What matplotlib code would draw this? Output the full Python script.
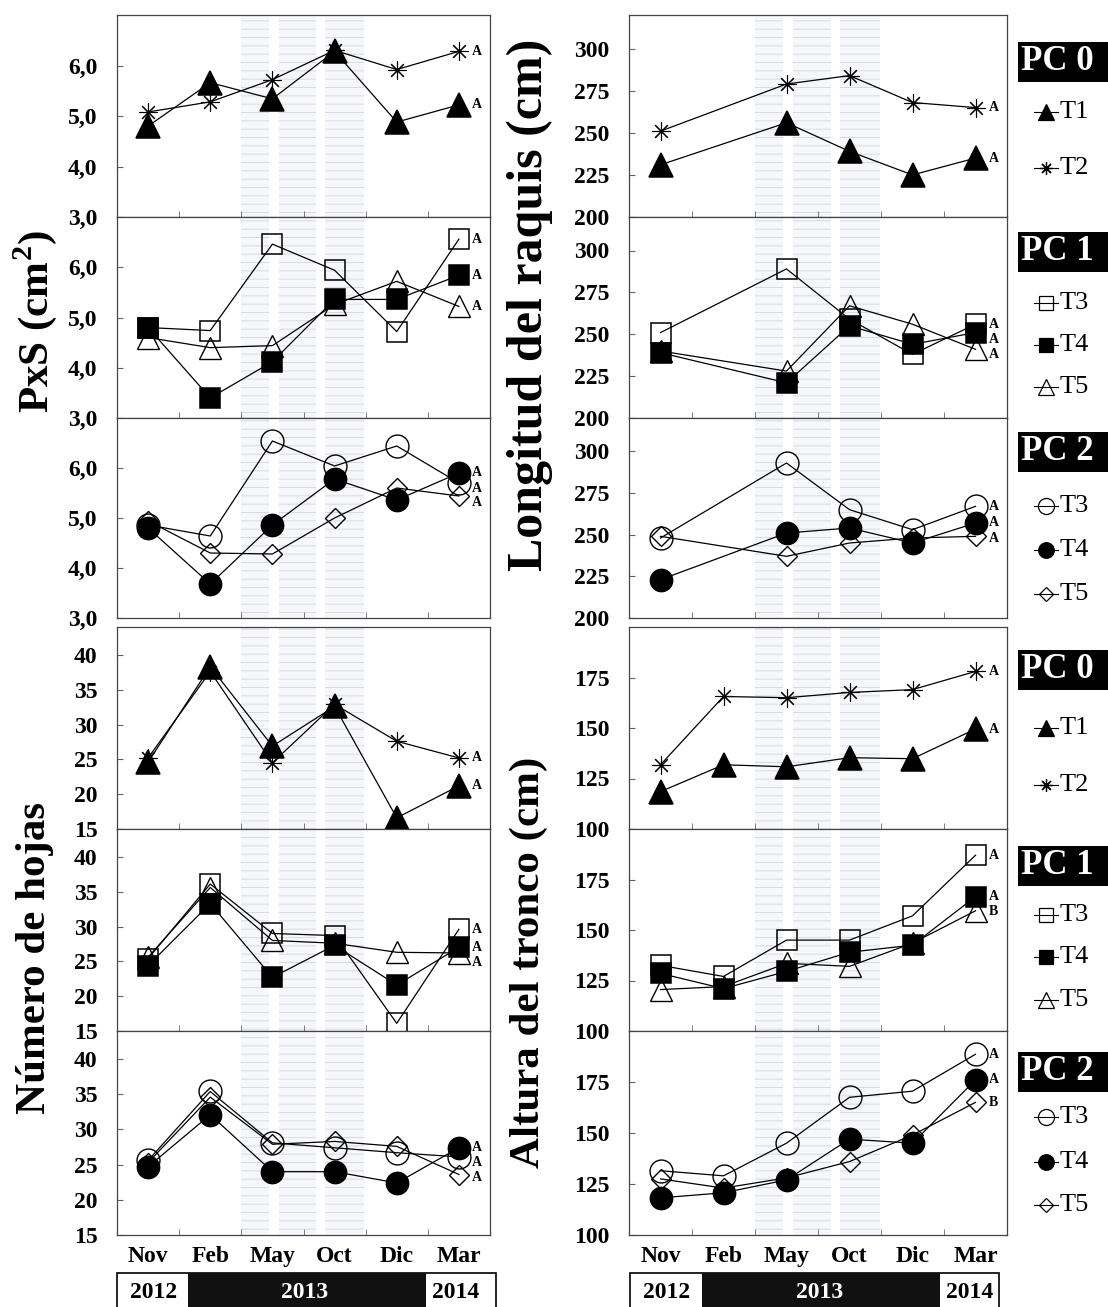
import numpy as np
import matplotlib
matplotlib.use('Agg')
import matplotlib.pyplot as plt
from matplotlib.patches import Rectangle
from matplotlib.lines import Line2D

plt.rcParams['font.family'] = ['Liberation Serif', 'DejaVu Serif']
plt.rcParams['mathtext.fontset'] = 'custom'
plt.rcParams['mathtext.rm'] = 'Liberation Serif:bold'
plt.rcParams['mathtext.bf'] = 'Liberation Serif:bold'
plt.rcParams['hatch.linewidth'] = 0.7

# ---- data ----
months = ['Nov', 'Feb', 'May', 'Oct', 'Dic', 'Mar']
years = ['2012', '2013', '2014']
nan = np.nan

# PxS (cm2)
pxs_pc0_t1 = [4.80, 5.66, 5.34, 6.28, 4.88, 5.22]
pxs_pc0_t2 = [5.08, 5.28, 5.72, 6.30, 5.92, 6.28]
pxs_pc1_t3 = [4.80, 4.74, 6.46, 5.94, 4.72, 6.56]
pxs_pc1_t4 = [4.80, 3.40, 4.12, 5.36, 5.36, 5.84]
pxs_pc1_t5 = [4.60, 4.40, 4.44, 5.26, 5.72, 5.22]
pxs_pc2_t3 = [4.86, 4.64, 6.54, 6.04, 6.44, 5.70]
pxs_pc2_t4 = [4.80, 3.68, 4.86, 5.78, 5.36, 5.90]
pxs_pc2_t5 = [4.94, 4.30, 4.28, 5.00, 5.60, 5.44]

# Longitud del raquis (cm), no Feb measurement
lr_pc0_t1 = [231, nan, 256, 239, 225, 235]
lr_pc0_t2 = [251, nan, 279, 284, 268, 265]
lr_pc1_t3 = [251, nan, 289, 259, 238, 256]
lr_pc1_t4 = [239, nan, 221, 255, 244, 251]
lr_pc1_t5 = [240, nan, 228, 267, 256, 241]
lr_pc2_t3 = [248, nan, 293, 265, 253, 267]
lr_pc2_t4 = [223, nan, 251, 254, 245, 257]
lr_pc2_t5 = [249, nan, 237, 245, 248, 249]

# Numero de hojas
nh_pc0_t1 = [24.6, 38.3, 26.9, 32.6, 16.6, 21.2]
nh_pc0_t2 = [25.2, 37.6, 24.5, 32.9, 27.6, 25.2]
nh_pc1_t3 = [25.4, 36.1, 29.0, 28.7, 16.1, 29.6]
nh_pc1_t4 = [24.4, 33.3, 22.7, 27.3, 21.6, 27.0]
nh_pc1_t5 = [25.6, 35.6, 28.0, 27.6, 26.3, 26.2]
nh_pc2_t3 = [25.6, 35.4, 28.1, 27.4, 26.7, 26.1]
nh_pc2_t4 = [24.7, 32.1, 24.0, 24.0, 22.4, 27.4]
nh_pc2_t5 = [25.3, 34.6, 27.9, 28.3, 27.6, 23.6]

# Altura del tronco (cm)
at_pc0_t1 = [118.5, 131.8, 130.8, 135.3, 134.8, 149.5]
at_pc0_t2 = [131.8, 165.6, 165.0, 167.6, 169.0, 178.0]
at_pc1_t3 = [132.5, 127.0, 145.0, 145.0, 157.0, 187.0]
at_pc1_t4 = [128.5, 121.0, 129.5, 139.0, 142.5, 166.5]
at_pc1_t5 = [120.5, 122.0, 133.5, 132.0, 143.5, 159.5]
at_pc2_t3 = [131.5, 129.0, 145.0, 167.5, 170.5, 188.6]
at_pc2_t4 = [118.2, 120.7, 127.0, 147.0, 145.0, 176.0]
at_pc2_t5 = [127.5, 123.0, 128.0, 136.0, 149.0, 165.0]

letters_pc0 = ['A', 'A']
letters_pc1 = ['A', 'A', 'A']
letters_at = ['A', 'A', 'B']

# ---- styles ----
styles = {
    'T1': dict(marker='^', ms=17, mfc='black', mew=1.1),
    'T2': dict(marker=(8, 2, 0), ms=13, mfc='black', mew=0.8),
    'T3s': dict(marker='s', ms=14, mfc='none', mew=1.1),
    'T4s': dict(marker='s', ms=14, mfc='black', mew=1.1),
    'T5t': dict(marker='^', ms=16, mfc='none', mew=1.0),
    'T3c': dict(marker='o', ms=16.5, mfc='none', mew=1.0),
    'T4c': dict(marker='o', ms=16, mfc='black', mew=1.1),
    'T5d': dict(marker='D', ms=10.5, mfc='none', mew=1.0),
}

W, H = 1108, 1307
fig = plt.figure(figsize=(W / 100, H / 100), dpi=100)
x = np.arange(1, 7)

cols = {'L': (117, 490), 'R': (629, 1007)}
rows = [(15, 217), (217, 418), (418, 618), (627, 829), (829, 1031), (1031, 1235)]

pxs_ticks = ([3, 4, 5, 6], ['3,0', '4,0', '5,0', '6,0'], (3, 7))
lr_ticks = ([200, 225, 250, 275, 300], ['200', '225', '250', '275', '300'], (200, 320))
nh_ticks = ([15, 20, 25, 30, 35, 40], ['15', '20', '25', '30', '35', '40'], (15, 44))
at_ticks = ([100, 125, 150, 175], ['100', '125', '150', '175'], (100, 200))

panels = [
    ('L', 0, pxs_ticks, [('T1', pxs_pc0_t1), ('T2', pxs_pc0_t2)], letters_pc0),
    ('L', 1, pxs_ticks, [('T3s', pxs_pc1_t3), ('T4s', pxs_pc1_t4), ('T5t', pxs_pc1_t5)], letters_pc1),
    ('L', 2, pxs_ticks, [('T3c', pxs_pc2_t3), ('T4c', pxs_pc2_t4), ('T5d', pxs_pc2_t5)], letters_pc1),
    ('R', 0, lr_ticks, [('T1', lr_pc0_t1), ('T2', lr_pc0_t2)], letters_pc0),
    ('R', 1, lr_ticks, [('T3s', lr_pc1_t3), ('T4s', lr_pc1_t4), ('T5t', lr_pc1_t5)], letters_pc1),
    ('R', 2, lr_ticks, [('T3c', lr_pc2_t3), ('T4c', lr_pc2_t4), ('T5d', lr_pc2_t5)], letters_pc1),
    ('L', 3, nh_ticks, [('T1', nh_pc0_t1), ('T2', nh_pc0_t2)], letters_pc0),
    ('L', 4, nh_ticks, [('T3s', nh_pc1_t3), ('T4s', nh_pc1_t4), ('T5t', nh_pc1_t5)], letters_pc1),
    ('L', 5, nh_ticks, [('T3c', nh_pc2_t3), ('T4c', nh_pc2_t4), ('T5d', nh_pc2_t5)], letters_pc1),
    ('R', 3, at_ticks, [('T1', at_pc0_t1), ('T2', at_pc0_t2)], letters_pc0),
    ('R', 4, at_ticks, [('T3s', at_pc1_t3), ('T4s', at_pc1_t4), ('T5t', at_pc1_t5)], letters_at),
    ('R', 5, at_ticks, [('T3c', at_pc2_t3), ('T4c', at_pc2_t4), ('T5d', at_pc2_t5)], letters_at),
]

# textured dry-season strips (x in month units)
strips = [(2.5, 2.95), (3.1, 3.7), (3.85, 4.48)]


def fig_rect(x0, y0, x1, y1):
    return [x0 / W, 1 - y1 / H, (x1 - x0) / W, (y1 - y0) / H]


for col, r, (yt, ytl, ylim), series, letters in panels:
    x0, x1 = cols[col]
    y0, y1 = rows[r]
    ax = fig.add_axes(fig_rect(x0, y0, x1, y1))
    ax.set_xlim(0.5, 6.5)
    ax.set_ylim(*ylim)
    for a, b in strips:
        ax.axvspan(a, b, facecolor='#f6f7fa', edgecolor='#d6dae4', hatch='--', lw=0, zorder=0)
    for s in ax.spines.values():
        s.set_color('#444444')
        s.set_linewidth(0.9)
    ax.set_xticks(x)
    if r == 5:
        ax.set_xticklabels(months, fontsize=17, fontweight='bold')
    else:
        ax.set_xticklabels([])
    ax.tick_params(axis='x', which='major', length=0, pad=8)
    ax.set_xticks([1.5, 2.5, 3.5, 4.5, 5.5], minor=True)
    ax.tick_params(axis='x', which='minor', direction='in', length=4, color='#666666')
    ax.set_yticks(yt)
    ax.set_yticklabels(ytl, fontsize=17, fontweight='bold')
    ax.tick_params(axis='y', direction='in', length=4, color='#666666', pad=14)

    ends = []
    for (key, vals), let in zip(series, letters):
        v = np.array(vals, dtype=float)
        m = np.isfinite(v)
        ax.plot(x[m], v[m], color='black', lw=0.9, mec='black', zorder=3, **styles[key])
        i = np.where(m)[0][-1]
        xd, yd = ax.transData.transform((x[i], v[i]))
        ends.append([yd, xd, let])
    ends.sort(key=lambda p: -p[0])
    for k in range(1, len(ends)):
        if ends[k - 1][0] - ends[k][0] < 15:
            ends[k][0] = ends[k - 1][0] - 15
    for yd, xd, let in ends:
        fig.text((xd + 13) / W, yd / H, let, fontsize=10, fontweight='bold', ha='left', va='center')

# y labels
fig.text(35 / W, 1 - 322 / H, r'PxS (cm$^{2}$)', rotation=90, fontsize=31, fontweight='bold', ha='center', va='center')
fig.text(530 / W, 1 - 305 / H, 'Longitud del raquis (cm)', rotation=90, fontsize=36, fontweight='bold', ha='center', va='center')
fig.text(35 / W, 1 - 958 / H, 'Número de hojas', rotation=90, fontsize=31, fontweight='bold', ha='center', va='center')
fig.text(529 / W, 1 - 962 / H, 'Altura del tronco (cm)', rotation=90, fontsize=31, fontweight='bold', ha='center', va='center')

# legends
legend_groups = [
    (62, 'PC 0', [('T1', 'T1', 112), ('T2', 'T2', 168)]),
    (252, 'PC 1', [('T3s', 'T3', 303), ('T4s', 'T4', 345), ('T5t', 'T5', 387)]),
    (452, 'PC 2', [('T3c', 'T3', 506), ('T4c', 'T4', 550), ('T5d', 'T5', 594)]),
    (670, 'PC 0', [('T1', 'T1', 728), ('T2', 'T2', 785)]),
    (866, 'PC 1', [('T3s', 'T3', 915), ('T4s', 'T4', 957), ('T5t', 'T5', 1000)]),
    (1072, 'PC 2', [('T3c', 'T3', 1117), ('T4c', 'T4', 1162), ('T5d', 'T5', 1205)]),
]
for yc, title, entries in legend_groups:
    fig.add_artist(Rectangle((1018 / W, 1 - (yc + 20) / H), 92 / W, 40 / H,
                             transform=fig.transFigure, facecolor='black', edgecolor='none'))
    fig.text(1021 / W, 1 - yc / H, title, color='white', fontsize=25, fontweight='bold', ha='left', va='center')
    for key, lab, ye in entries:
        st = dict(styles[key])
        st['ms'] = st['ms'] * 0.7
        st['mew'] = 0.9
        fig.add_artist(Line2D([1034 / W, 1046 / W, 1058 / W], [1 - ye / H] * 3, transform=fig.transFigure,
                              color='black', lw=0.8, markevery=[1], mec='black', **st))
        fig.text(1060 / W, 1 - ye / H, lab, fontsize=19, ha='left', va='center')

# year bars
year_bars = [((117, 496), (188, 426), (154, 305, 456)),
             ((630, 999), (702, 940), (667, 820, 970))]
for (bx0, bx1), (kx0, kx1), centers in year_bars:
    fig.add_artist(Rectangle((bx0 / W, 1 - 1312 / H), (bx1 - bx0) / W, 39 / H, transform=fig.transFigure,
                             facecolor='white', edgecolor='black', lw=1.2))
    fig.add_artist(Rectangle((kx0 / W, 1 - 1312 / H), (kx1 - kx0) / W, 39 / H, transform=fig.transFigure,
                             facecolor='#111111', edgecolor='none'))
    for cx, yr in zip(centers, years):
        fig.text(cx / W, 1 - 1293 / H, yr, fontsize=17, fontweight='bold', ha='center', va='center',
                 color='white' if yr == '2013' else 'black')

fig.savefig('out.png', dpi=100)
